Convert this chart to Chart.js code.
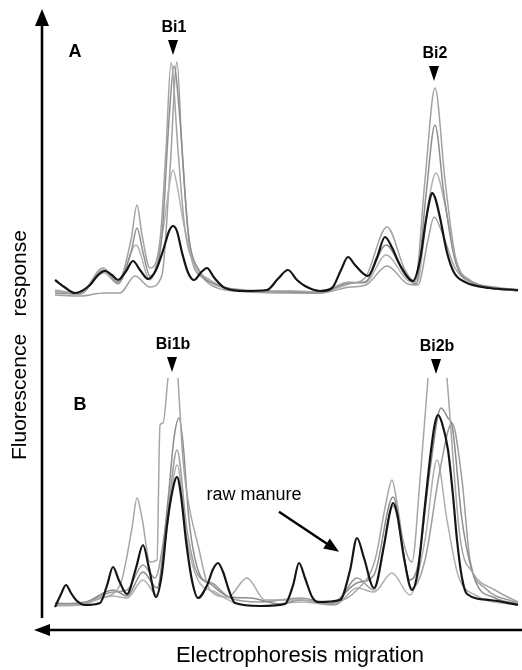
<!DOCTYPE html>
<html lang="en">
<head>
<meta charset="UTF-8">
<title>Electropherograms A / B</title>
<script src="https://cdn.jsdelivr.net/npm/chart.js"></script>
<style>
  body { margin: 0; background: #fff; }
</style>
</head>
<body>
<canvas id="gel" width="522" height="670"></canvas>
<script>
// migration position (arbitrary units), fluorescence (arbitrary units)
// panel A
const traceA_dark = [[3,6],[13,3],[23,0.8],[38,4],[46,8],[53,9.6],[60,8],[66,6],[74,9.5],[81,13.6],[88,10],[96,6.4],[104,10],[112,19],[117,25.5],[121,27.6],[125,25.5],[130,17],[136,9],[142,6],[149,9],[155,10.8],[162,7],[173,2.8],[193,1.6],[215,2],[226,6.5],[236,10],[245,6],[253,3.6],[268,1.6],[280,2.8],[289,10],[296,15.2],[303,12],[316,7.6],[325,15],[333,23.2],[340,19],[348,12],[361,5.6],[368,14],[374,30],[378,38.5],[380,40.8],[383,39],[388,31],[395,17],[402,9],[413,5.2],[438,2.8],[466,2]];
const traceA_g1 = [[3,1.6],[28,0.4],[51,10.8],[66,5.2],[79,22],[85,36],[90,24],[98,10.8],[108,22],[114,58],[119,93],[126,58],[133,26],[145,10.8],[158,6],[178,2.4],[208,1.2],[236,1.6],[268,1.2],[297,4.4],[313,6.8],[335,27.2],[353,10],[363,5.2],[373,46],[383,82.8],[393,46],[403,16],[418,6],[443,3.2],[466,2]];
const traceA_g2 = [[3,0.8],[28,0.4],[52,10],[66,4.8],[79,17],[85,26.8],[91,17],[98,7.6],[110,24],[117,70],[122,91.6],[128,70],[136,26],[148,9.2],[163,4.4],[188,2],[236,1.2],[268,0.8],[297,4.8],[313,5.2],[334,20],[353,8],[364,4.4],[374,40],[383,68],[392,40],[403,14],[420,5.2],[466,1.6]];
const traceA_g3 = [[3,2],[28,0.8],[52,8.8],[66,4.4],[84,20],[98,6],[111,26],[117,43],[121,50],[125,44],[131,30],[141,13.2],[153,6.8],[173,2.8],[236,1.6],[268,1.2],[297,5.2],[313,4.8],[334,16],[355,6],[365,4.8],[376,36],[384,48.8],[393,36],[404,13.2],[423,4.8],[466,2]];
const traceA_g4 = [[3,0],[28,-0.4],[52,0.8],[68,0.8],[83,7.6],[98,3.2],[110,8],[118,50],[125,93.2],[130,58],[138,18],[151,6.8],[173,2],[236,0.8],[268,0.8],[298,3.2],[314,4],[335,11.6],[356,4.4],[366,4],[376,22],[382,31.2],[391,24],[403,10.8],[423,4.4],[466,1.6]];

// panel B
const traceB_dark = [[3,0.4],[9,5.5],[14,9.2],[19,6],[24,3.2],[33,1.2],[48,2],[55,9],[61,16.4],[67,11],[75,5.6],[84,16],[91,25.2],[97,16],[104,4.4],[110,14],[115,33],[120,46],[125,52.4],[129,45],[134,27],[140,11],[146,4],[155,9],[161,15.5],[166,18],[171,14.5],[177,7],[183,2],[208,0.8],[233,1.6],[241,9],[247,18],[253,12],[260,4.5],[266,2.4],[288,3.2],[298,15],[305,28],[312,20],[322,8],[332,25],[338,38.5],[341,42],[345,38],[352,20],[360,7.2],[366,15.2],[373,41.2],[379,63],[383,74],[386,77.2],[390,74],[396,63.2],[401,45],[405,27.2],[410,12],[415,5.6],[438,3.2],[466,1.2]];
const traceB_g1 = [[3,1.2],[23,1.2],[48,4],[68,9.2],[80,32],[85,44],[90,36],[98,18.4],[105,19.2],[108,73.2],[111,74],[116,92],[121,null],[126,92],[131,59.2],[136,43.2],[146,25.2],[158,7.2],[176,4.4],[195,12],[213,3.2],[248,3.2],[278,2],[305,7.2],[323,19.2],[334,42],[340,51.2],[345,42],[351,27.2],[360,18.4],[368,51.2],[376,92],[385,null],[395,92],[408,28.4],[421,14],[443,7.2],[466,2.4]];
const traceB_g2 = [[3,2],[28,1.6],[61,7.2],[75,4.8],[91,14.4],[105,8],[116,43.2],[122,68],[127,76],[131,66],[137,35.2],[146,15.2],[160,9.2],[178,4.4],[198,4],[228,1.6],[248,3.2],[278,1.6],[305,10],[322,13.2],[341,44.4],[358,11.2],[366,17.2],[378,55.2],[389,80],[396,76],[400,73.2],[410,35.2],[423,11.2],[443,4],[466,1.6]];
const traceB_g3 = [[3,1.6],[33,2.4],[61,6.4],[75,7.2],[91,17.2],[103,12],[116,39.2],[125,63.2],[135,31.2],[146,13.2],[160,10],[178,4],[208,2.4],[248,4],[283,1.6],[305,12],[322,7.2],[341,40.8],[360,8],[373,19.2],[388,55.2],[400,74],[410,51.2],[418,19.2],[433,8],[466,2]];
const traceB_g4 = [[3,0.8],[28,1.2],[61,4.8],[75,4],[91,11.2],[105,5.2],[116,35.2],[125,57.2],[135,27.2],[146,11.2],[163,6.4],[183,2],[208,0.8],[248,2.4],[283,1.2],[305,8],[322,6.4],[340,14],[358,5.2],[373,27.2],[385,59.2],[395,35.2],[406,13.2],[423,5.2],[466,1.2]];

// peak markers: label, migration, panel, label level (panel units)
const peakNames = ['Bi1', 'Bi2', 'Bi1b', 'Bi2b'];
const peakMigration = [121, 382, 120, 384];
const peakPanel = ['yA', 'yA', 'yB', 'yB'];
const peakLevel = [106.8, 96.4, 105.2, 104.4];

const toPoints = arr => arr.map(p => ({ x: p[0], y: p[1] }));

function trace(arr, axis, color, width, order) {
  return {
    data: toPoints(arr),
    yAxisID: axis,
    borderColor: color,
    borderWidth: width,
    pointRadius: 0,
    fill: false,
    spanGaps: false,
    cubicInterpolationMode: 'monotone',
    order: order
  };
}

const FONT = "Arial, 'Liberation Sans', sans-serif";

const decorations = {
  id: 'decorations',
  afterDraw(chart) {
    const ctx = chart.ctx;
    const a = chart.chartArea;
    const xs = chart.scales.x;
    ctx.save();
    ctx.fillStyle = '#000';
    ctx.strokeStyle = '#000';

    // vertical axis arrow
    const ax = a.left - 10;
    ctx.lineWidth = 2.6;
    ctx.beginPath();
    ctx.moveTo(ax, a.bottom - 2);
    ctx.lineTo(ax, a.top - 4);
    ctx.stroke();
    ctx.beginPath();
    ctx.moveTo(ax, a.top - 11);
    ctx.lineTo(ax - 7, a.top + 6);
    ctx.lineTo(ax + 7, a.top + 6);
    ctx.closePath();
    ctx.fill();

    // horizontal axis arrow (pointing left)
    const ay = a.bottom + 10;
    ctx.beginPath();
    ctx.moveTo(chart.width, ay);
    ctx.lineTo(ax, ay);
    ctx.stroke();
    ctx.beginPath();
    ctx.moveTo(ax - 8, ay);
    ctx.lineTo(ax + 8, ay - 6);
    ctx.lineTo(ax + 8, ay + 6);
    ctx.closePath();
    ctx.fill();

    // axis titles
    ctx.textAlign = 'center';
    ctx.textBaseline = 'middle';
    ctx.font = '22px ' + FONT;
    ctx.fillText('Electrophoresis migration', 300, ay + 26);
    ctx.font = '21px ' + FONT;
    ctx.save();
    ctx.translate(20, 345);
    ctx.rotate(-Math.PI / 2);
    ctx.fillText('Fluorescence   response', 0, 0);
    ctx.restore();

    // panel letters
    ctx.font = 'bold 18px ' + FONT;
    ctx.fillText('A', xs.getPixelForValue(23), chart.scales.yA.getPixelForValue(97));
    ctx.fillText('B', xs.getPixelForValue(28), chart.scales.yB.getPixelForValue(81));

    // peak labels with triangles
    ctx.font = 'bold 16px ' + FONT;
    peakNames.forEach((name, i) => {
      const px = xs.getPixelForValue(peakMigration[i]);
      const py = chart.scales[peakPanel[i]].getPixelForValue(peakLevel[i]);
      ctx.fillText(name, px + 1, py);
      ctx.beginPath();
      ctx.moveTo(px - 5, py + 12);
      ctx.lineTo(px + 5, py + 12);
      ctx.lineTo(px, py + 27);
      ctx.closePath();
      ctx.fill();
    });

    // "raw manure" annotation with arrow
    const yB = chart.scales.yB;
    ctx.font = '18px ' + FONT;
    ctx.fillText('raw manure', xs.getPixelForValue(202), yB.getPixelForValue(45));
    const x0 = xs.getPixelForValue(227), y0 = yB.getPixelForValue(38.5);
    const x1 = xs.getPixelForValue(287), y1 = yB.getPixelForValue(22.5);
    const ang = Math.atan2(y1 - y0, x1 - x0);
    ctx.lineWidth = 2.4;
    ctx.beginPath();
    ctx.moveTo(x0, y0);
    ctx.lineTo(x1 - 10 * Math.cos(ang), y1 - 10 * Math.sin(ang));
    ctx.stroke();
    ctx.beginPath();
    ctx.moveTo(x1, y1);
    ctx.lineTo(x1 - 15 * Math.cos(ang) + 6 * Math.sin(ang), y1 - 15 * Math.sin(ang) - 6 * Math.cos(ang));
    ctx.lineTo(x1 - 15 * Math.cos(ang) - 6 * Math.sin(ang), y1 - 15 * Math.sin(ang) + 6 * Math.cos(ang));
    ctx.closePath();
    ctx.fill();

    ctx.restore();
  }
};

new Chart(document.getElementById('gel').getContext('2d'), {
  type: 'line',
  data: {
    datasets: [
      trace(traceA_g1, 'yA', '#a3a3a3', 1.5, 2),
      trace(traceA_g2, 'yA', '#8e8e8e', 1.5, 2),
      trace(traceA_g3, 'yA', '#b4b4b4', 1.5, 2),
      trace(traceA_g4, 'yA', '#a0a0a0', 1.5, 2),
      trace(traceA_dark, 'yA', '#151515', 2.2, 1),
      trace(traceB_g1, 'yB', '#a6a6a6', 1.5, 2),
      trace(traceB_g2, 'yB', '#8c8c8c', 1.5, 2),
      trace(traceB_g3, 'yB', '#9c9c9c', 1.5, 2),
      trace(traceB_g4, 'yB', '#b0b0b0', 1.5, 2),
      trace(traceB_dark, 'yB', '#151515', 2.2, 1)
    ]
  },
  options: {
    responsive: false,
    animation: false,
    layout: { padding: { left: 52, right: 2, top: 20, bottom: 50 } },
    plugins: { legend: { display: false }, tooltip: { enabled: false } },
    scales: {
      x: { type: 'linear', min: 0, max: 468, display: false },
      yA: { type: 'linear', min: -130, max: 110, display: false },
      yB: { type: 'linear', min: -4.8, max: 235.2, display: false }
    }
  },
  plugins: [decorations]
});
</script>
</body>
</html>
